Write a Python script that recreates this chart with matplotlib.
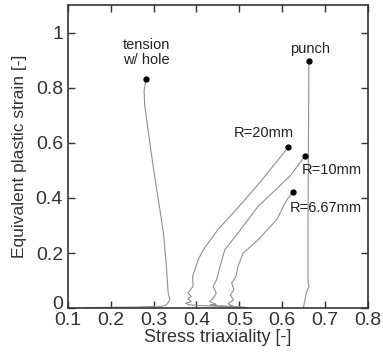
import numpy as np
import matplotlib
matplotlib.use('Agg')
import matplotlib.pyplot as plt
import matplotlib.transforms as mtransforms

plt.rcParams['font.family'] = ['Liberation Sans', 'DejaVu Sans']

# curves (stress triaxiality, equivalent plastic strain)
hole_x = [0.140, 0.200, 0.260, 0.300, 0.307, 0.322, 0.330, 0.338, 0.334, 0.330, 0.323, 0.311, 0.299, 0.288, 0.279, 0.278, 0.282]
hole_y = [0.002, 0.003, 0.004, 0.006, 0.004, 0.008, 0.012, 0.030, 0.055, 0.150, 0.273, 0.394, 0.515, 0.636, 0.740, 0.790, 0.830]

punch_x = [0.649, 0.651, 0.653, 0.656, 0.659, 0.663, 0.660, 0.660, 0.661, 0.662]
punch_y = [0.000, 0.015, 0.030, 0.055, 0.068, 0.079, 0.090, 0.300, 0.600, 0.895]

r20_x = [0.500, 0.450, 0.400, 0.382, 0.375, 0.388, 0.380, 0.388, 0.380, 0.392, 0.391, 0.404, 0.416, 0.450, 0.493, 0.550, 0.614]
r20_y = [0.004, 0.007, 0.010, 0.012, 0.018, 0.024, 0.035, 0.042, 0.055, 0.079, 0.115, 0.176, 0.212, 0.285, 0.358, 0.460, 0.584]

r10_x = [0.520, 0.480, 0.440, 0.432, 0.446, 0.431, 0.439, 0.446, 0.439, 0.447, 0.451, 0.455, 0.466, 0.497, 0.544, 0.618, 0.653]
r10_y = [0.002, 0.006, 0.010, 0.012, 0.014, 0.024, 0.036, 0.055, 0.080, 0.103, 0.128, 0.152, 0.212, 0.273, 0.370, 0.479, 0.552]

r667_x = [0.510, 0.490, 0.478, 0.485, 0.474, 0.486, 0.479, 0.487, 0.482, 0.492, 0.497, 0.509, 0.544, 0.587, 0.611, 0.625]
r667_y = [0.003, 0.005, 0.008, 0.006, 0.016, 0.030, 0.048, 0.067, 0.091, 0.115, 0.152, 0.200, 0.248, 0.321, 0.394, 0.421]

labels = ['tension\nw/ hole', 'punch', 'R=20mm', 'R=10mm', 'R=6.67mm']
label_x = [0.284, 0.665, 0.556, 0.715, 0.701]
label_y = [0.927, 0.942, 0.636, 0.500, 0.364]

fig = plt.figure(figsize=(3.83, 3.55), dpi=100)
ax = fig.add_axes([0.177, 0.132, 0.784, 0.854])

for cx, cy in [(hole_x, hole_y), (punch_x, punch_y), (r20_x, r20_y), (r10_x, r10_y), (r667_x, r667_y)]:
    ax.plot(cx, cy, color='#909090', linewidth=0.8)
    ax.plot(cx[-1], cy[-1], 'o', color='black', markersize=3.5)

for s, lx, ly in zip(labels, label_x, label_y):
    ax.text(lx, ly, s, ha='center', va='center', fontsize=10.5, color='#222222', linespacing=1.15)

ax.set_xlim(0.1, 0.8)
ax.set_ylim(0, 1.1)
ax.set_xticks(np.arange(0.1, 0.81, 0.1))
ax.set_xticklabels(['0.1', '0.2', '0.3', '0.4', '0.5', '0.6', '0.7', '0.8'])
ax.set_yticks([0, 0.2, 0.4, 0.6, 0.8, 1.0])
ax.set_yticklabels(['0', '0.2', '0.4', '0.6', '0.8', '1'])
ax.tick_params(direction='in', top=True, right=True, length=5, width=1, labelsize=14, colors='#333333', labelcolor='#333333')
ax.tick_params(axis='x', pad=3)
# lift the "0" a little so it clears the "0.1" below it
zero_lbl = ax.get_yticklabels()[0]
zero_lbl.set_transform(zero_lbl.get_transform() + mtransforms.ScaledTranslation(0, 4/72, fig.dpi_scale_trans))
for sp in ax.spines.values():
    sp.set_linewidth(1.2)
    sp.set_color('#333333')
ax.set_xlabel('Stress triaxiality [-]', fontsize=13, color='#333333', labelpad=0)
ax.set_ylabel('Equivalent plastic strain [-]', fontsize=12.5, color='#333333', labelpad=6)

plt.savefig('out.png', dpi=100)
